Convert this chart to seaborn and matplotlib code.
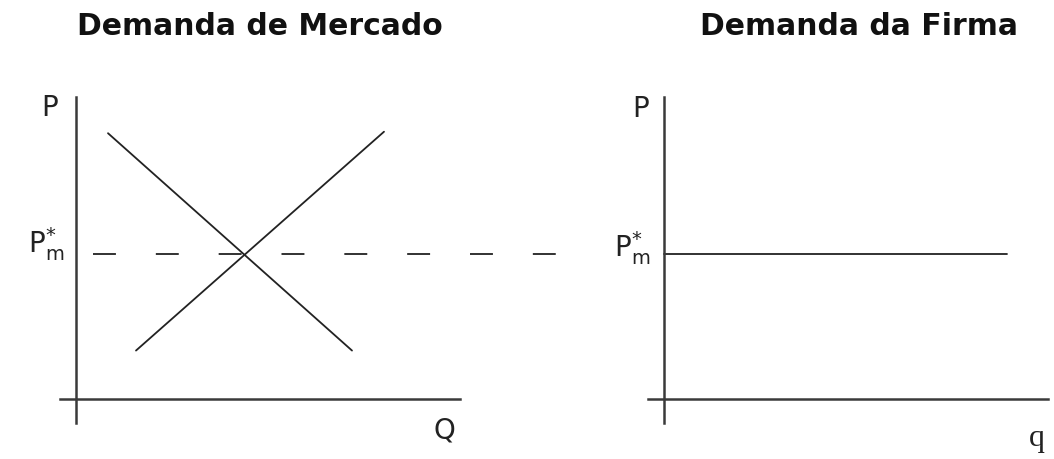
import matplotlib
matplotlib.use("Agg")
import matplotlib.pyplot as plt
import seaborn as sns

# valores (unidades arbitrárias de Q e P)
demanda_q = [0.8, 6.9]
demanda_p = [8.8, 1.6]
oferta_q = [1.5, 7.7]
oferta_p = [1.6, 8.85]
p_estrela = 4.8
tracejado_q = [0.425, 12.125]
firma_q = [0.0, 8.575]

titulos = ["Demanda de Mercado", "Demanda da Firma"]
rotulo_pm = r"$\mathregular{P^{*}_{m}}$"

sns.set_theme(style="white")
plt.rcParams["font.family"] = ["DejaVu Sans"]

W, H = 1054, 459
fig = plt.figure(figsize=(W / 100, H / 100), dpi=100)
fig.patch.set_facecolor("white")


def fx(px):
    return px / W


def fy(py):
    return 1 - py / H


ax1 = fig.add_axes([fx(60), fy(423), 400 / W, 326 / H])
ax2 = fig.add_axes([fx(648), fy(423), 400 / W, 326 / H])

eixo_cor = "#3a3a3a"
linha_cor = "#222222"

for ax in (ax1, ax2):
    ax.set_xlim(-0.4, 9.6)
    ax.set_ylim(-0.8, 10.0)
    ax.set_facecolor("none")
    for s in ("top", "right"):
        ax.spines[s].set_visible(False)
    for s in ("left", "bottom"):
        ax.spines[s].set_position(("data", 0))
        ax.spines[s].set_color(eixo_cor)
        ax.spines[s].set_linewidth(1.8)
    ax.set_xticks([])
    ax.set_yticks([])
    ax.set_xlabel("")
    ax.set_ylabel("")

# mercado: demanda e oferta
sns.lineplot(x=demanda_q, y=demanda_p, ax=ax1, color=linha_cor, lw=1.3)
sns.lineplot(x=oferta_q, y=oferta_p, ax=ax1, color=linha_cor, lw=1.3)
sns.lineplot(x=tracejado_q, y=[p_estrela, p_estrela], ax=ax1, color=linha_cor,
             lw=1.3, linestyle=(0, (12.7, 22.1)), clip_on=False)

# firma: demanda horizontal
sns.lineplot(x=firma_q, y=[p_estrela, p_estrela], ax=ax2, color=linha_cor, lw=1.3)

# titulos
tit = dict(ha="center", va="baseline", fontsize=21.5, fontweight="bold", color="#111111")
fig.text(fx(260), fy(35), titulos[0], **tit)
fig.text(fx(859), fy(35), titulos[1], **tit)

# rotulos dos eixos
lab = dict(fontsize=20, color="#222222")
fig.text(fx(50), fy(108), "P", ha="center", va="center", **lab)
fig.text(fx(641), fy(109), "P", ha="center", va="center", **lab)
fig.text(fx(64), fy(253), rotulo_pm, ha="right", va="baseline", **lab)
fig.text(fx(650), fy(257), rotulo_pm, ha="right", va="baseline", **lab)
fig.text(fx(444), fy(430), "Q", ha="center", va="center", **lab)
fig.text(fx(1037), fy(446), "q", ha="center", va="baseline",
         fontsize=23, color="#222222", family=["Liberation Serif", "DejaVu Serif"])

fig.savefig("out.png", dpi=100, facecolor="white")
